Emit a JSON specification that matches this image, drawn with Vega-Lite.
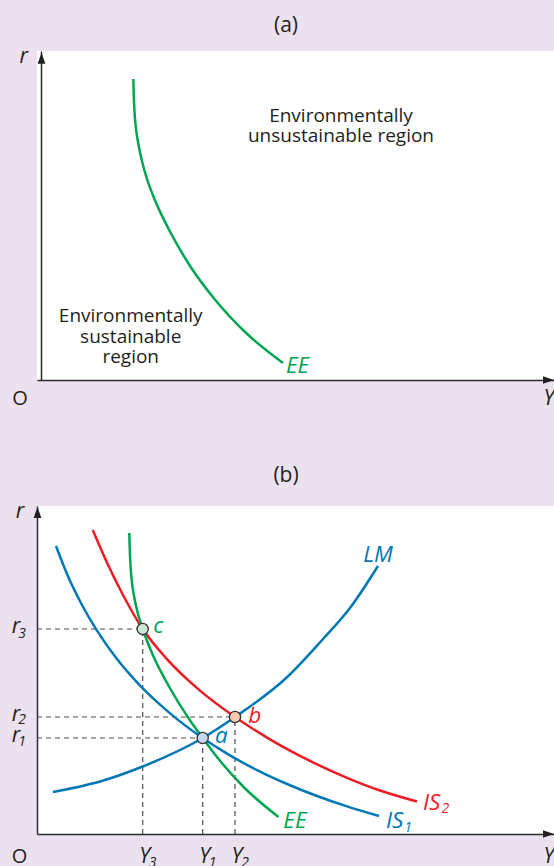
{
  "$schema": "https://vega.github.io/schema/vega-lite/v6.json",
  "autosize": {"type": "none"},
  "padding": {"left": 37, "top": 51, "right": 517, "bottom": 815},
  "background": "#ece2ef",
  "bounds": "flush",
  "spacing": 126,
  "config": {
    "view": {"fill": "#ffffff", "stroke": null},
    "font": "Open Sans",
    "title": {"font": "Open Sans", "fontSize": 21, "fontWeight": "normal", "color": "#231f20"}
  },
  "vconcat": [
    {
      "width": 517,
      "height": 329,
      "title": {"text": "(a)", "anchor": "middle", "frame": "group", "dx": -9.5, "dy": 28.5, "offset": 22, "baseline": "alphabetic"},
      "encoding": {
        "x": {"field": "x", "type": "quantitative", "scale": {"domain": [0, 517], "nice": false, "zero": false},
              "axis": {"orient": "bottom", "domain": true, "domainColor": "#2b2b2b", "domainWidth": 1.5, "ticks": false, "labels": false, "grid": false, "title": null}},
        "y": {"field": "r", "type": "quantitative", "scale": {"domain": [0, 329], "nice": false, "zero": false},
              "axis": {"orient": "left", "offset": -4, "domain": true, "domainColor": "#2b2b2b", "domainWidth": 1.5, "ticks": false, "labels": false, "grid": false, "title": null}}
      },
      "layer": [
        {
          "data": {"values": [
            {"series": "EE", "x": 96.3, "r": 301}, {"series": "EE", "x": 96.7, "r": 287}, {"series": "EE", "x": 97.4, "r": 270},
            {"series": "EE", "x": 98.8, "r": 253}, {"series": "EE", "x": 101.2, "r": 237}, {"series": "EE", "x": 104.7, "r": 220},
            {"series": "EE", "x": 109.4, "r": 203}, {"series": "EE", "x": 117.9, "r": 180}, {"series": "EE", "x": 133.8, "r": 147},
            {"series": "EE", "x": 153.7, "r": 113}, {"series": "EE", "x": 178.3, "r": 80}, {"series": "EE", "x": 209.1, "r": 47},
            {"series": "EE", "x": 246, "r": 17}
          ]},
          "mark": {"type": "line", "interpolate": "monotone", "strokeWidth": 2.5, "strokeCap": "butt"},
          "encoding": {"color": {"field": "series", "type": "nominal", "scale": {"domain": ["EE", "IS1", "IS2", "LM", "axis"], "range": ["#00a551", "#0077b6", "#ed1c24", "#0077b6", "#231f20"]}, "legend": null}}
        },
        {
          "data": {"values": [
            {"text": "Environmentally", "x": 304, "r": 258},
            {"text": "unsustainable region", "x": 304, "r": 238},
            {"text": "Environmentally", "x": 93.7, "r": 58.3},
            {"text": "sustainable", "x": 93.7, "r": 37.3},
            {"text": "region", "x": 93.7, "r": 17}
          ]},
          "mark": {"type": "text", "fontSize": 19, "align": "center", "baseline": "alphabetic", "color": "#231f20"},
          "encoding": {"text": {"field": "text"}}
        },
        {
          "data": {"values": [{"text": "EE", "series": "EE", "x": 249, "r": 6.7}]},
          "mark": {"type": "text", "fontSize": 22.5, "fontStyle": "italic", "align": "left", "baseline": "alphabetic"},
          "encoding": {"text": {"field": "text"}, "color": {"field": "series", "type": "nominal", "scale": {"domain": ["EE", "IS1", "IS2", "LM", "axis"], "range": ["#00a551", "#0077b6", "#ed1c24", "#0077b6", "#231f20"]}, "legend": null}}
        },
        {
          "data": {"values": [
            {"text": "r", "series": "axis", "x": -13.3, "r": 316.7},
            {"text": "Y", "series": "axis", "x": 512, "r": -25}
          ]},
          "mark": {"type": "text", "fontSize": 21.5, "fontStyle": "italic", "align": "center", "baseline": "alphabetic"},
          "encoding": {"text": {"field": "text"}, "color": {"field": "series", "type": "nominal", "scale": {"domain": ["EE", "IS1", "IS2", "LM", "axis"], "range": ["#00a551", "#0077b6", "#ed1c24", "#0077b6", "#231f20"]}, "legend": null}}
        },
        {
          "data": {"values": [{"text": "O", "x": -17, "r": -24.5}]},
          "mark": {"type": "text", "fontSize": 20, "align": "center", "baseline": "alphabetic", "color": "#231f20"},
          "encoding": {"text": {"field": "text"}}
        },
        {
          "data": {"values": [{"dir": "up", "x": 4.5, "r": 327.3}, {"dir": "right", "x": 517, "r": 0}]},
          "mark": {"type": "point", "filled": true, "color": "#231f20", "size": 121, "opacity": 1},
          "encoding": {"shape": {"field": "dir", "type": "nominal", "scale": {"domain": ["up", "right"], "range": ["M0,0L-0.7,2L0.7,2Z", "M0,0L-2,-0.7L-2,0.7Z"]}, "legend": null}}
        }
      ]
    },
    {
      "width": 517,
      "height": 328,
      "title": {"text": "(b)", "anchor": "middle", "frame": "group", "dx": -9.5, "dy": 27, "offset": 25.5, "baseline": "alphabetic"},
      "encoding": {
        "x": {"field": "x", "type": "quantitative", "scale": {"domain": [0, 517], "nice": false, "zero": false},
              "axis": {"orient": "bottom", "domain": true, "domainColor": "#2b2b2b", "domainWidth": 1.5, "ticks": false, "labels": false, "grid": false, "title": null}},
        "y": {"field": "r", "type": "quantitative", "scale": {"domain": [0, 328], "nice": false, "zero": false},
              "axis": {"orient": "left", "domain": true, "domainColor": "#2b2b2b", "domainWidth": 1.5, "ticks": false, "labels": false, "grid": false, "title": null}}
      },
      "layer": [
        {
          "data": {"values": [
            {"x": 0, "r": 205, "x2": 105.7, "r2": 205}, {"x": 105.7, "r": 0, "x2": 105.7, "r2": 205},
            {"x": 0, "r": 117, "x2": 198, "r2": 117}, {"x": 198, "r": 0, "x2": 198, "r2": 117},
            {"x": 0, "r": 96, "x2": 165.7, "r2": 96}, {"x": 165.7, "r": 0, "x2": 165.7, "r2": 96}
          ]},
          "mark": {"type": "rule", "strokeDash": [5, 4], "color": "#4d4d4d", "strokeWidth": 1.2},
          "encoding": {"x2": {"field": "x2"}, "y2": {"field": "r2"}}
        },
        {
          "data": {"values": [
            {"series": "LM", "x": 16, "r": 42}, {"series": "LM", "x": 63, "r": 52.5}, {"series": "LM", "x": 105.7, "r": 67.5},
            {"series": "LM", "x": 165.7, "r": 96}, {"series": "LM", "x": 198, "r": 117}, {"series": "LM", "x": 249.7, "r": 156.5},
            {"series": "LM", "x": 286, "r": 195}, {"series": "LM", "x": 313, "r": 226}, {"series": "LM", "x": 341, "r": 268},
            {"series": "IS1", "x": 19, "r": 288}, {"series": "IS1", "x": 30, "r": 260}, {"series": "IS1", "x": 45, "r": 229},
            {"series": "IS1", "x": 60, "r": 203.3}, {"series": "IS1", "x": 80, "r": 174.9}, {"series": "IS1", "x": 100, "r": 151.7},
            {"series": "IS1", "x": 120, "r": 132.1}, {"series": "IS1", "x": 140, "r": 114.9}, {"series": "IS1", "x": 165.7, "r": 96},
            {"series": "IS1", "x": 190, "r": 80.4}, {"series": "IS1", "x": 220, "r": 63.9}, {"series": "IS1", "x": 250, "r": 50},
            {"series": "IS1", "x": 280, "r": 38}, {"series": "IS1", "x": 310, "r": 27.6}, {"series": "IS1", "x": 342, "r": 18},
            {"series": "IS2", "x": 55.7, "r": 304}, {"series": "IS2", "x": 69.7, "r": 272}, {"series": "IS2", "x": 86, "r": 239},
            {"series": "IS2", "x": 105.7, "r": 205}, {"series": "IS2", "x": 129.7, "r": 175.2}, {"series": "IS2", "x": 163, "r": 143.4},
            {"series": "IS2", "x": 198, "r": 117}, {"series": "IS2", "x": 230, "r": 96.4}, {"series": "IS2", "x": 263, "r": 78.1},
            {"series": "IS2", "x": 310, "r": 56.2}, {"series": "IS2", "x": 343, "r": 43.5}, {"series": "IS2", "x": 380, "r": 32.5},
            {"series": "EE", "x": 92.3, "r": 301}, {"series": "EE", "x": 92.7, "r": 287}, {"series": "EE", "x": 93.4, "r": 270},
            {"series": "EE", "x": 94.8, "r": 253}, {"series": "EE", "x": 97.2, "r": 237}, {"series": "EE", "x": 101, "r": 220},
            {"series": "EE", "x": 105.7, "r": 205}, {"series": "EE", "x": 115.4, "r": 180}, {"series": "EE", "x": 132.3, "r": 147},
            {"series": "EE", "x": 153.4, "r": 113}, {"series": "EE", "x": 165.7, "r": 96}, {"series": "EE", "x": 177.6, "r": 80},
            {"series": "EE", "x": 206.6, "r": 47}, {"series": "EE", "x": 241.5, "r": 17}
          ]},
          "mark": {"type": "line", "interpolate": "monotone", "strokeWidth": 2.5, "strokeCap": "butt"},
          "encoding": {"color": {"field": "series", "type": "nominal", "scale": {"domain": ["EE", "IS1", "IS2", "LM", "axis"], "range": ["#00a551", "#0077b6", "#ed1c24", "#0077b6", "#231f20"]}, "legend": null}}
        },
        {
          "data": {"values": [
            {"pt": "a", "x": 165.7, "r": 96}, {"pt": "b", "x": 198, "r": 117}, {"pt": "c", "x": 105.7, "r": 205}
          ]},
          "mark": {"type": "point", "filled": true, "size": 125, "stroke": "#333333", "strokeWidth": 1.3, "opacity": 1},
          "encoding": {"fill": {"field": "pt", "type": "nominal", "scale": {"domain": ["a", "b", "c"], "range": ["#c4d8ec", "#f8cbb2", "#cbe4cd"]}, "legend": null}}
        },
        {
          "data": {"values": [
            {"text": "LM", "series": "LM", "x": 326.3, "r": 272.3},
            {"text": "IS", "series": "IS1", "x": 349, "r": 5.7},
            {"text": "IS", "series": "IS2", "x": 386, "r": 24},
            {"text": "EE", "series": "EE", "x": 246.3, "r": 5.7},
            {"text": "a", "series": "IS1", "x": 178, "r": 90.7},
            {"text": "b", "series": "IS2", "x": 211.3, "r": 110.7},
            {"text": "c", "series": "EE", "x": 116.3, "r": 200.7}
          ]},
          "mark": {"type": "text", "fontSize": 22.5, "fontStyle": "italic", "align": "left", "baseline": "alphabetic"},
          "encoding": {"text": {"field": "text"}, "color": {"field": "series", "type": "nominal", "scale": {"domain": ["EE", "IS1", "IS2", "LM", "axis"], "range": ["#00a551", "#0077b6", "#ed1c24", "#0077b6", "#231f20"]}, "legend": null}}
        },
        {
          "data": {"values": [
            {"text": "r", "series": "axis", "x": -17, "r": 316},
            {"text": "r", "series": "axis", "x": -21, "r": 201.5},
            {"text": "r", "series": "axis", "x": -21, "r": 113.5},
            {"text": "r", "series": "axis", "x": -21, "r": 92.5},
            {"text": "Y", "series": "axis", "x": 512, "r": -29},
            {"text": "Y", "series": "axis", "x": 107.7, "r": -29},
            {"text": "Y", "series": "axis", "x": 167.7, "r": -29},
            {"text": "Y", "series": "axis", "x": 200, "r": -29}
          ]},
          "mark": {"type": "text", "fontSize": 21.5, "fontStyle": "italic", "align": "center", "baseline": "alphabetic"},
          "encoding": {"text": {"field": "text"}, "color": {"field": "series", "type": "nominal", "scale": {"domain": ["EE", "IS1", "IS2", "LM", "axis"], "range": ["#00a551", "#0077b6", "#ed1c24", "#0077b6", "#231f20"]}, "legend": null}}
        },
        {
          "data": {"values": [
            {"text": "3", "series": "axis", "x": -15, "r": 196},
            {"text": "2", "series": "axis", "x": -15, "r": 110},
            {"text": "1", "series": "axis", "x": -15, "r": 88.3},
            {"text": "3", "series": "axis", "x": 115.7, "r": -32.5},
            {"text": "1", "series": "axis", "x": 175.7, "r": -32.5},
            {"text": "2", "series": "axis", "x": 208, "r": -32.5},
            {"text": "1", "series": "IS1", "x": 371, "r": 2.3},
            {"text": "2", "series": "IS2", "x": 408.3, "r": 20.7}
          ]},
          "mark": {"type": "text", "fontSize": 14, "fontStyle": "italic", "align": "center", "baseline": "alphabetic"},
          "encoding": {"text": {"field": "text"}, "color": {"field": "series", "type": "nominal", "scale": {"domain": ["EE", "IS1", "IS2", "LM", "axis"], "range": ["#00a551", "#0077b6", "#ed1c24", "#0077b6", "#231f20"]}, "legend": null}}
        },
        {
          "data": {"values": [{"text": "O", "x": -17.5, "r": -29}]},
          "mark": {"type": "text", "fontSize": 20, "align": "center", "baseline": "alphabetic", "color": "#231f20"},
          "encoding": {"text": {"field": "text"}}
        },
        {
          "data": {"values": [{"dir": "up", "x": 0.5, "r": 327}, {"dir": "right", "x": 517, "r": 0}]},
          "mark": {"type": "point", "filled": true, "color": "#231f20", "size": 121, "opacity": 1},
          "encoding": {"shape": {"field": "dir", "type": "nominal", "scale": {"domain": ["up", "right"], "range": ["M0,0L-0.7,2L0.7,2Z", "M0,0L-2,-0.7L-2,0.7Z"]}, "legend": null}}
        }
      ]
    }
  ]
}
